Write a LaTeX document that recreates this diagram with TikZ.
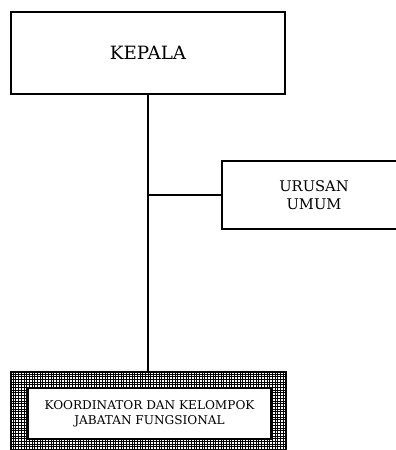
\documentclass[tikz,border=0pt]{standalone}
\usepackage{fontspec}
\setmainfont{DejaVu Serif}
\usetikzlibrary{positioning}
\tikzset{
  unitbox/.style={draw, line width=1.6pt, fill=white, align=center, inner sep=0pt},
  hatchbox/.style={draw, line width=2pt, inner sep=0pt,
    path picture={\draw[line width=0.5pt, step=2.7]
      (path picture bounding box.south west) grid (path picture bounding box.north east);}}
}

\begin{document}
\begin{tikzpicture}[x=1pt,y=1pt]
  \useasboundingbox (0,0) rectangle (396,450);
  \clip (0,0) rectangle (396,450);

  % Head
  \node[unitbox, minimum width=274, minimum height=82,
    font=\fontsize{18.3}{22}\selectfont] (kepala) at (148,397) {KEPALA};

  % Staff unit
  \node[unitbox, minimum width=184, minimum height=68,
    font=\fontsize{14.7}{17.5}\selectfont] (urusan) at (314,255) {URUSAN\\UMUM};

  % Functional group (hatched frame)
  \node[hatchbox, minimum width=275, minimum height=90] (kelompok) at (148,33) {};
  \node[unitbox, line width=2pt, minimum width=243, minimum height=51,
    font=\fontsize{12.1}{15}\selectfont] (fungsional) at (149.5,36.5)
    {KOORDINATOR DAN KELOMPOK\\JABATAN FUNGSIONAL};

  % Lines
  \draw[line width=1.5pt] (kepala.south) -- (kelompok.north);
  \draw[line width=1.5pt] (kepala.south |- urusan.west) -- (urusan.west);
\end{tikzpicture}
\end{document}
